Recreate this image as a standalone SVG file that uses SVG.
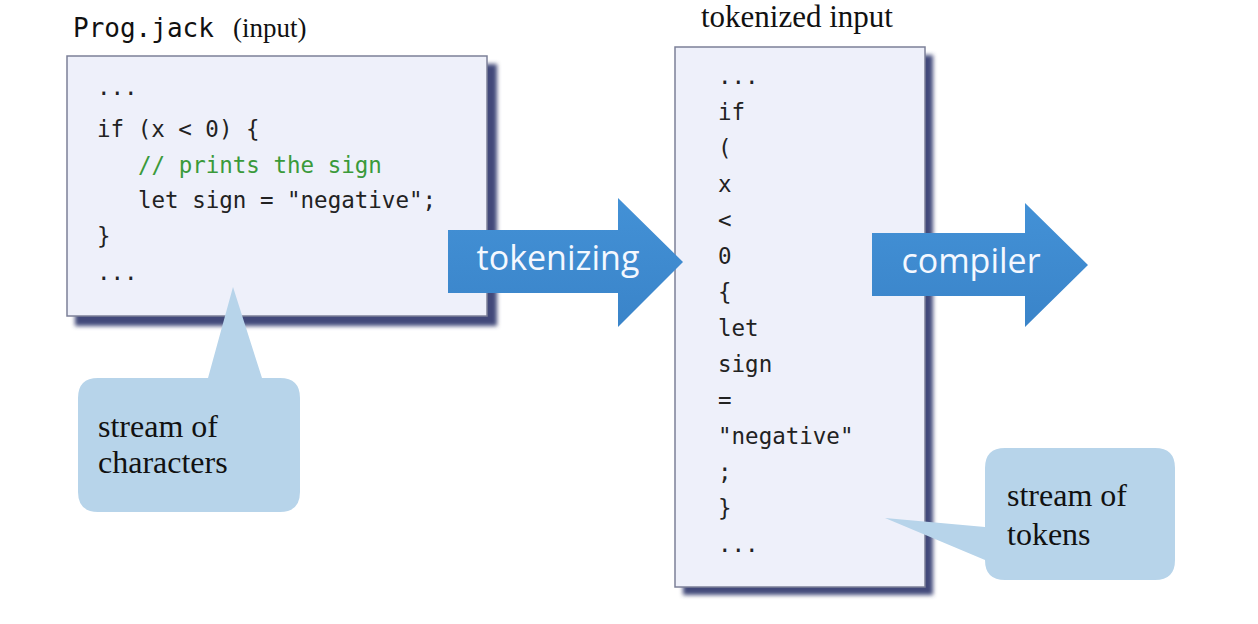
<svg xmlns="http://www.w3.org/2000/svg" width="1258" height="624" viewBox="0 0 1258 624">
<style>
.mono{font-family:"DejaVu Sans Mono","Liberation Mono",monospace;font-size:22.5px;fill:#222}
.cmt{fill:#3a9a3a}
.serif{font-family:"Liberation Serif","Times New Roman",serif;fill:#111}
.arrowtxt{font-family:"Open Sans","Noto Sans",sans-serif;font-size:34px;fill:#f4f8ff}
.box{fill:#eef0fa;stroke:#7c8098;stroke-width:1.5}
.shadow{fill:#434a7a;filter:url(#blur)}
.arrow{fill:url(#ag)}
.callout{fill:#b7d4ea}
.ctxt{font-size:32px}
</style>
<defs>
<filter id="blur" x="-10%" y="-10%" width="120%" height="120%"><feGaussianBlur stdDeviation="2"/></filter>
<linearGradient id="ag" x1="0" y1="0" x2="0" y2="1">
<stop offset="0" stop-color="#4391d6"/>
<stop offset="1" stop-color="#3a84c9"/>
</linearGradient>
</defs>
<rect width="1258" height="624" fill="#ffffff"/>

<g id="input-box">
<text x="73" y="37" font-family="DejaVu Sans Mono,Liberation Mono,monospace" font-size="26" fill="#111">Prog.jack</text>
<text x="233" y="37" class="serif" font-size="27">(input)</text>
<rect class="shadow" x="75" y="64" width="422" height="262"/>
<rect class="box" x="67" y="56" width="420" height="260"/>
<text class="mono" x="97" y="95">...</text>
<text class="mono" x="97" y="137">if (x &lt; 0) {</text>
<text class="mono cmt" x="138" y="173">// prints the sign</text>
<text class="mono" x="138" y="208">let sign = "negative";</text>
<text class="mono" x="97" y="244">}</text>
<text class="mono" x="97" y="280">...</text>
</g>

<g id="tokenized-box">
<text x="797" y="27" class="serif" font-size="31" text-anchor="middle">tokenized input</text>
<rect class="shadow" x="683" y="55" width="250" height="540"/>
<rect class="box" x="675" y="47" width="250" height="540"/>
<text class="mono" x="718" y="84">...</text>
<text class="mono" x="718" y="120">if</text>
<text class="mono" x="718" y="156">(</text>
<text class="mono" x="718" y="192">x</text>
<text class="mono" x="718" y="228">&lt;</text>
<text class="mono" x="718" y="264">0</text>
<text class="mono" x="718" y="300">{</text>
<text class="mono" x="718" y="336">let</text>
<text class="mono" x="718" y="372">sign</text>
<text class="mono" x="718" y="408">=</text>
<text class="mono" x="718" y="444">"negative"</text>
<text class="mono" x="718" y="480">;</text>
<text class="mono" x="718" y="516">}</text>
<text class="mono" x="718" y="552">...</text>
</g>

<g id="connectors">
<g id="tokenizing-arrow">
<path class="arrow" d="M448,230 H618 V198 L683,262 L618,327 V293 H448 Z"/>
<text class="arrowtxt" x="558" y="270" text-anchor="middle">tokenizing</text>
</g>
<g id="compiler-arrow">
<path class="arrow" d="M872,233 H1025 V203 L1088,265 L1025,327 V296 H872 Z"/>
<text class="arrowtxt" x="971" y="273" text-anchor="middle" font-size="35">compiler</text>
</g>
</g>

<g id="callout-characters">
<path class="callout" d="M98,378 H208 L233,287 L262,378 H280 Q300,378 300,398 V492 Q300,512 280,512 H98 Q78,512 78,492 V398 Q78,378 98,378 Z"/>
<text class="serif ctxt" x="98" y="437">stream of</text>
<text class="serif ctxt" x="98" y="473">characters</text>
</g>

<g id="callout-tokens">
<path class="callout" d="M1005,448 H1155 Q1175,448 1175,468 V560 Q1175,580 1155,580 H1005 Q985,580 985,560 L885,518 L985,527 V468 Q985,448 1005,448 Z"/>
<text class="serif ctxt" x="1007" y="506">stream of</text>
<text class="serif ctxt" x="1007" y="545">tokens</text>
</g>
</svg>
